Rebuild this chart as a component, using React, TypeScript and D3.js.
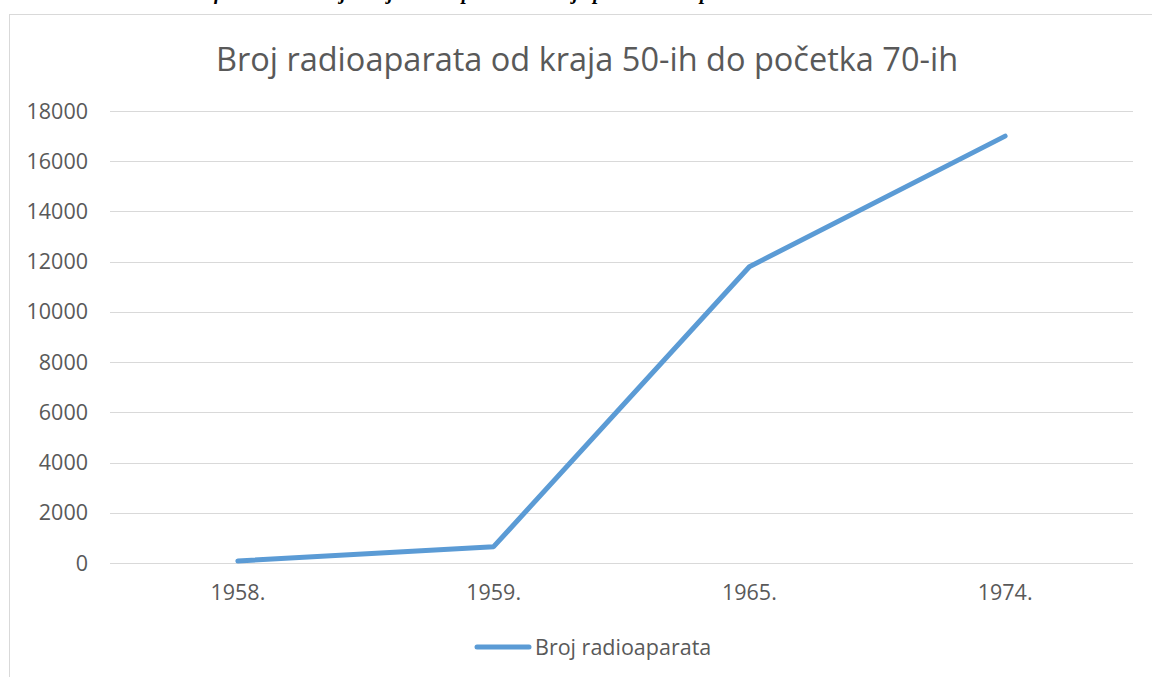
import React from "react";
import * as d3 from "d3";

const years = ["1958.", "1959.", "1965.", "1974."];
const radios = [80, 650, 11800, 17000];
const yTicks = [0, 2000, 4000, 6000, 8000, 10000, 12000, 14000, 16000, 18000];
const seriesName = "Broj radioaparata";
const title = "Broj radioaparata od kraja 50-ih do početka 70-ih";
const caption = "Grafikon 1: Kretanje broja radioaparata od kraja pedesetih do početka sedamdesetih";

const W = 1152;
const H = 677;
const FONT = "'Open Sans', 'Noto Sans', sans-serif";
const TEXT = "#595959";
const GRID = "#d9d9d9";
const BLUE = "#5b9bd5";
const LABEL = 21.5;

const App = () => {
  // plot area
  const left = 110;
  const right = 1133;
  const top = 111;
  const bottom = 563;

  const x = d3.scaleBand().domain(years).range([left, right]);
  const y = d3.scaleLinear().domain([0, 18000]).range([bottom, top]);

  const line = d3
    .line<number>()
    .x((_, i) => (x(years[i]) as number) + x.bandwidth() / 2)
    .y((d) => y(d));

  return (
    <div style={{ position: "absolute", left: 0, top: 0 }}>
      <svg width={W} height={H} style={{ display: "block", background: "#fff" }}>
        {/* caption of the page, only its bottom edge is in view */}
        <text
          x={530}
          y={-1}
          textAnchor="middle"
          fontFamily="'Liberation Serif', serif"
          fontStyle="italic"
          fontWeight="bold"
          fontSize={20}
          fill="#000"
        >
          {caption}
        </text>

        {/* chart frame */}
        <rect x={9.5} y={14.5} width={W} height={H} fill="#fff" stroke={GRID} strokeWidth={1} />

        <text x={587} y={71} textAnchor="middle" fontFamily={FONT} fontSize={32.5} fill={TEXT}>
          {title}
        </text>

        {yTicks.map((t) => (
          <g key={t}>
            <line x1={left} x2={right} y1={Math.round(y(t)) + 0.5} y2={Math.round(y(t)) + 0.5} stroke={GRID} strokeWidth={1} />
            <text x={88} y={y(t)} dy="0.35em" textAnchor="end" fontFamily={FONT} fontSize={LABEL} fill={TEXT}>
              {t}
            </text>
          </g>
        ))}

        {years.map((yr) => (
          <text
            key={yr}
            x={(x(yr) as number) + x.bandwidth() / 2}
            y={600}
            textAnchor="middle"
            fontFamily={FONT}
            fontSize={LABEL}
            fill={TEXT}
          >
            {yr}
          </text>
        ))}

        <path
          d={line(radios) || ""}
          fill="none"
          stroke={BLUE}
          strokeWidth={5}
          strokeLinecap="round"
          strokeLinejoin="round"
        />

        {/* legend */}
        <line x1={477} x2={529} y1={647} y2={647} stroke={BLUE} strokeWidth={5} strokeLinecap="round" />
        <text x={535} y={647} dy="0.35em" fontFamily={FONT} fontSize={LABEL} fill={TEXT}>
          {seriesName}
        </text>
      </svg>
    </div>
  );
};

export default App;
